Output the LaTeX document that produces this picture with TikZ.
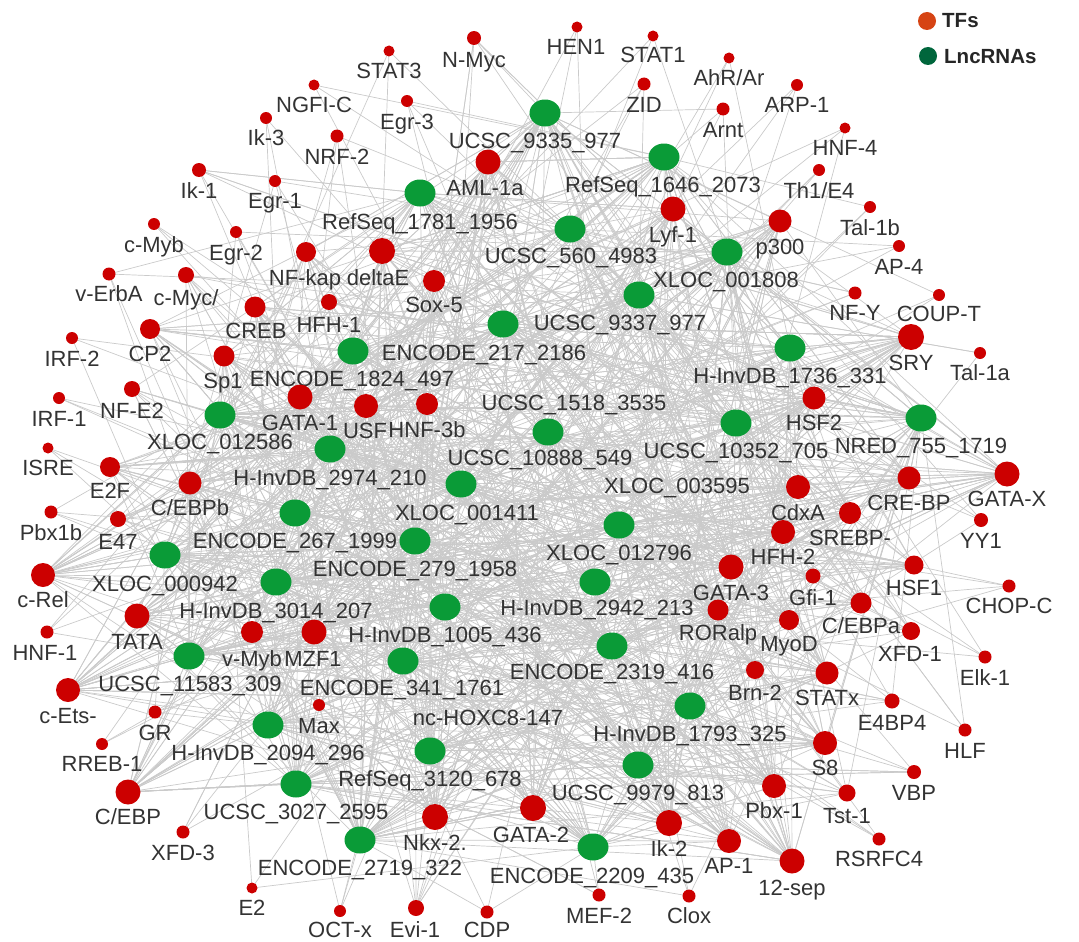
\documentclass[tikz,border=0pt]{standalone}
\usepackage{fontspec}
\setmainfont{Liberation Sans}
\usetikzlibrary{shapes.geometric}
\pgfdeclarelayer{bg}
\pgfsetlayers{bg,main}
\definecolor{tfred}{RGB}{204,0,0}
\definecolor{lncgreen}{RGB}{10,155,55}
\definecolor{edgegray}{RGB}{202,202,202}
\definecolor{txt}{RGB}{51,51,51}
\definecolor{legred}{RGB}{214,68,20}
\definecolor{leggreen}{RGB}{0,102,60}
\tikzset{
 tfnode/.style={circle, fill=tfred, inner sep=0pt},
 lncnode/.style={ellipse, fill=lncgreen, inner sep=0pt, minimum width=31pt, minimum height=27pt},
 lbl/.style={text=txt, font=\fontsize{22}{24}\selectfont, inner sep=0pt, anchor=base},
 leglbl/.style={text=black!85, font=\fontsize{20.5}{22}\selectfont\bfseries, inner sep=0pt, anchor=west},
 link/.style={draw=edgegray, line width=0.7pt}
}
\newcommand\lnc[6]{\node[lncnode] (#1) at (#2,#3) {};
 \node[lbl] (#1-l) at (#5,#6+8) {#4};}
\newcommand\tfn[8]{\node[tfnode, minimum size=2*#4] (#1) at (#2,#3) {};
 \node[lbl] (#1-l) at (#6,#7+8) {#5};
 \pgfmathtruncatemacro\nd{#8>=9 ? #8*2.4 : (#8>=5 ? #8*1.5 : #8)}
 \begin{pgfonlayer}{bg}
 \foreach \k in {1,...,\nd}{\pgfmathrandominteger{\gi}{1}{32}\draw[link] (#1.center) -- (g\gi.center);}
 \end{pgfonlayer}}
\begin{document}
\begin{tikzpicture}[x=1pt,y=-1pt]
\pgfmathsetseed{11}
\useasboundingbox (0,0) rectangle (1079,942);
% legend
\node[circle, fill=legred, minimum size=18pt, inner sep=0pt] (legtf) at (927,21) {};
\node[leglbl] (legtf-l) at (942,21) {TFs};
\node[circle, fill=leggreen, minimum size=18pt, inner sep=0pt] (leglnc) at (928,56) {};
\node[leglbl] (leglnc-l) at (944,57) {LncRNAs};
% LncRNAs
\lnc{g1}{545}{113}{UCSC\_9335\_977}{535}{140}
\lnc{g2}{664}{157}{RefSeq\_1646\_2073}{663}{184}
\lnc{g3}{420}{193}{RefSeq\_1781\_1956}{420}{221}
\lnc{g4}{570}{229}{UCSC\_560\_4983}{571}{255}
\lnc{g5}{727}{252}{XLOC\_001808}{726}{279}
\lnc{g6}{639}{295}{UCSC\_9337\_977}{620}{322}
\lnc{g7}{503}{324}{ENCODE\_217\_2186}{484}{352}
\lnc{g8}{790}{348}{H-InvDB\_1736\_331}{790}{375}
\lnc{g9}{353}{351}{ENCODE\_1824\_497}{352}{378}
\lnc{g10}{220}{415}{XLOC\_012586}{220}{441}
\lnc{g11}{921}{418}{NRED\_755\_1719}{921}{445}
\lnc{g12}{736}{423}{UCSC\_10352\_705}{736}{450}
\lnc{g13}{548}{432}{UCSC\_10888\_549}{540}{457}
\lnc{g14}{330}{449}{H-InvDB\_2974\_210}{330}{477}
\lnc{g15}{461}{484}{XLOC\_001411}{467}{512}
\lnc{g16}{295}{513}{ENCODE\_267\_1999}{295}{540}
\lnc{g17}{619}{525}{XLOC\_012796}{619}{552}
\lnc{g18}{415}{541}{ENCODE\_279\_1958}{415}{568}
\lnc{g19}{165}{555}{XLOC\_000942}{165}{583}
\lnc{g20}{276}{582}{H-InvDB\_3014\_207}{276}{610}
\lnc{g21}{595}{582}{H-InvDB\_2942\_213}{597}{607}
\lnc{g22}{445}{607}{H-InvDB\_1005\_436}{445}{634}
\lnc{g23}{612}{646}{ENCODE\_2319\_416}{612}{671}
\lnc{g24}{189}{656}{UCSC\_11583\_309}{190}{683}
\lnc{g25}{403}{661}{ENCODE\_341\_1761}{402}{687}
\lnc{g26}{690}{706}{H-InvDB\_1793\_325}{690}{733}
\lnc{g27}{268}{725}{H-InvDB\_2094\_296}{268}{752}
\lnc{g28}{430}{751}{RefSeq\_3120\_678}{430}{778}
\lnc{g29}{296}{784}{UCSC\_3027\_2595}{296}{811}
\lnc{g30}{638}{765}{UCSC\_9979\_813}{638}{792}
\lnc{g31}{360}{840}{ENCODE\_2719\_322}{360}{867}
\lnc{g32}{593}{847}{ENCODE\_2209\_435}{592}{875}
\node[lbl] (h1-l) at (574,410) {UCSC\_1518\_3535};
\node[lbl] (h2-l) at (677,493) {XLOC\_003595};
\node[lbl] (h3-l) at (488,725) {nc-HOXC8-147};
% TFs
\tfn{NMyc}{474}{38}{7}{N-Myc}{474}{59}{5}
\tfn{STAT3}{389}{51}{5.5}{STAT3}{389}{70}{3}
\tfn{HEN1}{577}{27}{5.5}{HEN1}{576}{47}{3}
\tfn{STAT1}{653}{36}{5.5}{STAT1}{653}{55}{3}
\tfn{AhR}{729}{58}{5.5}{AhR/Ar}{729}{77}{3}
\tfn{ZID}{644}{84}{6.5}{ZID}{644}{104}{4}
\tfn{ARP1}{797}{85}{6}{ARP-1}{797}{104}{3}
\tfn{NGFIC}{314}{85}{5.5}{NGFI-C}{314}{104}{3}
\tfn{Egr3}{407}{101}{6}{Egr-3}{407}{121}{4}
\tfn{Arnt}{723}{109}{6.5}{Arnt}{723}{129}{4}
\tfn{Ik3}{266}{118}{6}{Ik-3}{266}{137}{3}
\tfn{NRF2}{337}{136}{6.5}{NRF-2}{337}{156}{4}
\tfn{HNF4}{845}{128}{5.5}{HNF-4}{845}{147}{3}
\tfn{AML1a}{488}{162}{12.5}{AML-1a}{485}{187}{16}
\tfn{Ik1}{199}{170}{7}{Ik-1}{199}{190}{5}
\tfn{Th1E4}{819}{170}{6}{Th1/E4}{819}{190}{3}
\tfn{Egr1}{275}{181}{6}{Egr-1}{275}{200}{4}
\tfn{Lyf1}{673}{209}{12.5}{Lyf-1}{673}{234}{16}
\tfn{Tal1b}{870}{207}{6}{Tal-1b}{870}{227}{3}
\tfn{p300}{780}{221}{11.5}{p300}{780}{246}{14}
\tfn{cMyb}{154}{224}{6}{c-Myb}{154}{244}{3}
\tfn{Egr2}{236}{232}{6}{Egr-2}{236}{252}{4}
\tfn{AP4}{899}{246}{6}{AP-4}{899}{266}{3}
\tfn{NFkap}{306}{252}{10}{NF-kap}{305}{277}{9}
\tfn{deltaE}{382}{251}{13}{deltaE}{378}{277}{16}
\tfn{Sox5}{434}{281}{11}{Sox-5}{434}{304}{12}
\tfn{vErbA}{109}{274}{6.5}{v-ErbA}{109}{293}{4}
\tfn{cMyc}{186}{275}{8}{c-Myc/}{186}{297}{6}
\tfn{NFY}{855}{293}{6.5}{NF-Y}{855}{312}{4}
\tfn{COUPT}{939}{295}{6}{COUP-T}{939}{313}{3}
\tfn{CREB}{255}{307}{10.5}{CREB}{256}{330}{9}
\tfn{HFH1}{329}{302}{8}{HFH-1}{329}{324}{7}
\tfn{CP2}{150}{329}{10}{CP2}{150}{353}{9}
\tfn{IRF2}{72}{338}{6}{IRF-2}{72}{358}{3}
\tfn{SRY}{911}{337}{13}{SRY}{911}{362}{16}
\tfn{Tal1a}{980}{353}{6}{Tal-1a}{980}{372}{3}
\tfn{Sp1}{224}{356}{10.5}{Sp1}{223}{380}{9}
\tfn{IRF1}{59}{398}{6}{IRF-1}{59}{418}{3}
\tfn{NFE2}{132}{389}{8}{NF-E2}{132}{410}{6}
\tfn{GATA1}{300}{397}{12.5}{GATA-1}{300}{422}{16}
\tfn{USF}{366}{406}{12}{USF}{365}{430}{14}
\tfn{HNF3b}{427}{404}{11}{HNF-3b}{427}{429}{12}
\tfn{HSF2}{814}{398}{11.5}{HSF2}{814}{422}{14}
\tfn{ISRE}{48}{448}{5.5}{ISRE}{48}{467}{3}
\tfn{E2F}{110}{467}{10}{E2F}{110}{490}{9}
\tfn{CEBPb}{190}{483}{11.5}{C/EBPb}{190}{507}{14}
\tfn{GATAX}{1007}{474}{12.5}{GATA-X}{1007}{498}{14}
\tfn{CREBP}{909}{478}{11.5}{CRE-BP}{909}{502}{14}
\tfn{CdxA}{798}{487}{12}{CdxA}{798}{512}{14}
\tfn{Pbx1b}{51}{512}{6.5}{Pbx1b}{51}{532}{4}
\tfn{E47}{118}{519}{8}{E47}{118}{541}{6}
\tfn{SREBP}{850}{513}{11}{SREBP-}{850}{537}{12}
\tfn{YY1}{981}{520}{7}{YY1}{981}{540}{4}
\tfn{HFH2}{783}{532}{12}{HFH-2}{783}{556}{14}
\tfn{cRel}{43}{575}{12}{c-Rel}{43}{599}{14}
\tfn{HSF1}{914}{565}{9.5}{HSF1}{914}{587}{9}
\tfn{GATA3}{731}{567}{12.5}{GATA-3}{731}{592}{16}
\tfn{Gfi1}{813}{576}{7.5}{Gfi-1}{813}{597}{5}
\tfn{CHOPC}{1009}{586}{6.5}{CHOP-C}{1009}{605}{4}
\tfn{TATA}{137}{616}{12.5}{TATA}{137}{641}{16}
\tfn{RORalp}{718}{610}{10.5}{RORalp}{718}{632}{9}
\tfn{CEBPa}{861}{603}{10.5}{C/EBPa}{861}{625}{9}
\tfn{MyoD}{789}{620}{10}{MyoD}{789}{643}{9}
\tfn{vMyb}{252}{632}{11}{v-Myb}{252}{658}{12}
\tfn{MZF1}{314}{632}{12.5}{MZF1}{313}{658}{16}
\tfn{HNF1}{47}{632}{6.5}{HNF-1}{45}{652}{4}
\tfn{XFD1}{911}{631}{9}{XFD-1}{910}{653}{7}
\tfn{Elk1}{985}{657}{6.5}{Elk-1}{985}{677}{4}
\tfn{Brn2}{755}{670}{9}{Brn-2}{755}{692}{7}
\tfn{STATx}{827}{673}{11.5}{STATx}{827}{697}{14}
\tfn{cEts}{68}{690}{12}{c-Ets-}{68}{715}{14}
\tfn{E4BP4}{892}{701}{7.5}{E4BP4}{892}{722}{5}
\tfn{Max}{319}{705}{6}{Max}{319}{725}{4}
\tfn{GR}{155}{712}{6.5}{GR}{155}{732}{4}
\tfn{HLF}{965}{730}{6.5}{HLF}{965}{750}{4}
\tfn{S8}{825}{743}{12}{S8}{825}{767}{14}
\tfn{RREB1}{102}{744}{6}{RREB-1}{102}{763}{3}
\tfn{VBP}{914}{772}{7}{VBP}{914}{792}{5}
\tfn{Pbx1}{774}{786}{12}{Pbx-1}{774}{810}{14}
\tfn{CEBP}{128}{792}{12.5}{C/EBP}{128}{816}{14}
\tfn{Tst1}{847}{793}{8.5}{Tst-1}{847}{815}{7}
\tfn{GATA2}{533}{808}{13}{GATA-2}{531}{834}{16}
\tfn{Nkx2}{435}{817}{13}{Nkx-2.}{435}{842}{16}
\tfn{Ik2}{669}{823}{13}{Ik-2}{669}{848}{16}
\tfn{XFD3}{183}{832}{6.5}{XFD-3}{183}{852}{4}
\tfn{AP1}{729}{841}{12}{AP-1}{729}{865}{14}
\tfn{RSRFC4}{879}{839}{6.5}{RSRFC4}{879}{858}{4}
\tfn{sep12}{792}{861}{12.5}{12-sep}{792}{887}{14}
\tfn{E2}{252}{888}{5.5}{E2}{252}{907}{3}
\tfn{MEF2}{599}{895}{6.5}{MEF-2}{599}{915}{4}
\tfn{Clox}{689}{896}{6.5}{Clox}{689}{915}{4}
\tfn{OCTx}{340}{911}{6}{OCT-x}{340}{929}{4}
\tfn{Evi1}{416}{908}{8}{Evi-1}{415}{929}{6}
\tfn{CDP}{487}{912}{6.5}{CDP}{487}{929}{4}
\end{tikzpicture}
\end{document}
